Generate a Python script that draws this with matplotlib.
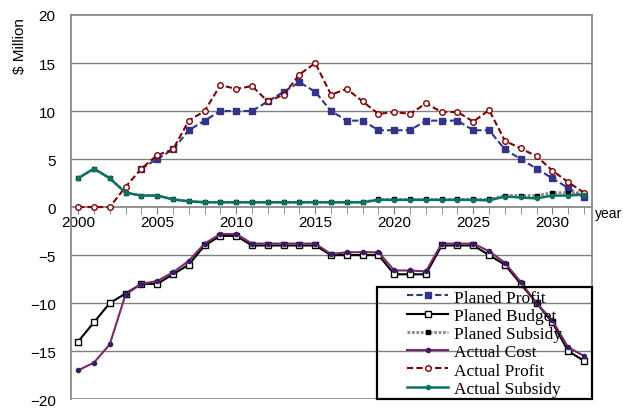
import numpy as np
import matplotlib.pyplot as plt
from matplotlib.ticker import MultipleLocator
from matplotlib.patches import Rectangle

# data ($ million per year)
years = list(range(2000, 2033))
nan = np.nan
planed_profit = [nan, nan, nan, nan, 4, 5, 6, 8, 9, 10, 10, 10, 11, 12, 13, 12, 10, 9, 9,
                 8, 8, 8, 9, 9, 9, 8, 8, 6, 5, 4, 3, 2, 1]
planed_budget = [-14, -12, -10, -9, -8, -8, -7, -6, -4, -3, -3, -4, -4, -4, -4, -4, -5, -5, -5,
                 -5, -7, -7, -7, -4, -4, -4, -5, -6, -8, -10, -12, -15, -16]
planed_subsidy = [3.0, 4.0, 3.0, 1.5, 1.2, 1.2, 0.8, 0.6, 0.5, 0.5, 0.5, 0.5, 0.5, 0.5, 0.5, 0.5,
                  0.5, 0.5, 0.5, 0.8, 0.8, 0.8, 0.8, 0.8, 0.8, 0.8, 0.8, 1.2, 1.2, 1.2, 1.5, 1.5, 1.5]
actual_cost = [-17, -16.2, -14.3, -9.1, -8, -7.7, -6.8, -5.6, -3.8, -2.8, -2.8, -3.8, -3.8, -3.8,
               -3.8, -3.8, -4.9, -4.7, -4.7, -4.7, -6.6, -6.6, -6.7, -3.8, -3.8, -3.8, -4.6, -5.8,
               -7.8, -10, -11.8, -14.6, -15.5]
actual_profit = [0, 0, 0, 2.1, 4.0, 5.4, 6.0, 9.0, 10.0, 12.7, 12.3, 12.6, 11.0, 11.7, 13.8, 15.0,
                 11.7, 12.3, 11.0, 9.7, 9.9, 9.7, 10.8, 9.9, 9.9, 8.9, 10.1, 6.9, 6.1, 5.3, 3.8, 2.6, 1.5]
actual_subsidy = [3.0, 4.0, 3.0, 1.5, 1.2, 1.2, 0.8, 0.6, 0.5, 0.5, 0.5, 0.5, 0.5, 0.5, 0.5, 0.5,
                  0.5, 0.5, 0.5, 0.75, 0.75, 0.75, 0.75, 0.75, 0.75, 0.75, 0.7, 1.1, 1.0, 0.9, 1.2, 1.2, 1.3]

plt.rcParams['font.family'] = ['Liberation Sans', 'DejaVu Sans']

fig = plt.figure(figsize=(6.23, 4.10), dpi=100)
ax = fig.add_axes([0.114, 0.024, 0.836, 0.937])

grid_c = '#808080'
for g in [-15, -10, -5, 5, 10, 15]:
    ax.axhline(g, color=grid_c, lw=1.0, zorder=0)
ax.axhline(-20, color=grid_c, lw=1.2, zorder=0)

ax.plot(years, planed_profit, color='#333388', lw=1.5, ls=(0, (3, 1.5)),
        marker='s', ms=4, mfc='#333388', mec='#333388', label='Planed Profit', zorder=3)
ax.plot(years, planed_budget, color='black', lw=1.5,
        marker='s', ms=4, mfc='white', mec='black', mew=1, label='Planed Budget', zorder=3)
ax.plot(years, planed_subsidy, color='#888888', lw=2.0, ls=(0, (1, 0.6)),
        marker='s', ms=3, mfc='black', mec='black', label='Planed Subsidy', zorder=3)
ax.plot(years, actual_cost, color='#7a2a6a', lw=1.5,
        marker='o', ms=3, mfc='#3a1a6a', mec='#3a1a6a', label='Actual Cost', zorder=4)
ax.plot(years, actual_profit, color='#800000', lw=1.5, ls=(0, (3, 1.5)),
        marker='o', ms=4, mfc='white', mec='#800000', mew=1, label='Actual Profit', zorder=4)
ax.plot(years, actual_subsidy, color='#0e7262', lw=1.8,
        marker='o', ms=3, mfc='#0e7262', mec='#0e7262', label='Actual Subsidy', zorder=4)

ax.set_xlim(1999.55, 2032.5)
ax.set_ylim(-20, 20)
ax.set_yticks([-20, -15, -10, -5, 0, 5, 10, 15, 20])
ax.xaxis.set_major_locator(MultipleLocator(5))
ax.xaxis.set_minor_locator(MultipleLocator(1))

ax.spines['bottom'].set_position(('data', 0))
for s in ['left', 'right', 'top', 'bottom']:
    ax.spines[s].set_color(grid_c)
    ax.spines[s].set_linewidth(1.2)
ax.tick_params(axis='y', length=0, labelsize=11, pad=11)
ax.tick_params(axis='x', which='both', direction='out', length=5, color=grid_c, labelsize=11, pad=1)

ax.set_ylabel('$ Million', fontsize=11, loc='top')
ax.yaxis.set_label_coords(-0.085, 0.995)
ax.text(1.006, 0.503, 'year', transform=ax.transAxes, fontsize=10, va='top', ha='left',
        clip_on=False)

# legend box: wide black frame in the lower right, entries centred inside
box = (0.587, 0.0, 0.413, 0.292)
leg = ax.legend(loc='center', bbox_to_anchor=box, borderaxespad=0,
                prop={'family': 'Liberation Serif', 'size': 12.5}, handlelength=2.4,
                labelspacing=0.12, borderpad=0.1, handletextpad=0.3, frameon=False)
leg.set_zorder(5)
ax.add_patch(Rectangle(box[:2], box[2], box[3], transform=ax.transAxes, fill=False,
                       edgecolor='black', lw=1.6, zorder=5, clip_on=False))

fig.savefig('out.png', dpi=100)
